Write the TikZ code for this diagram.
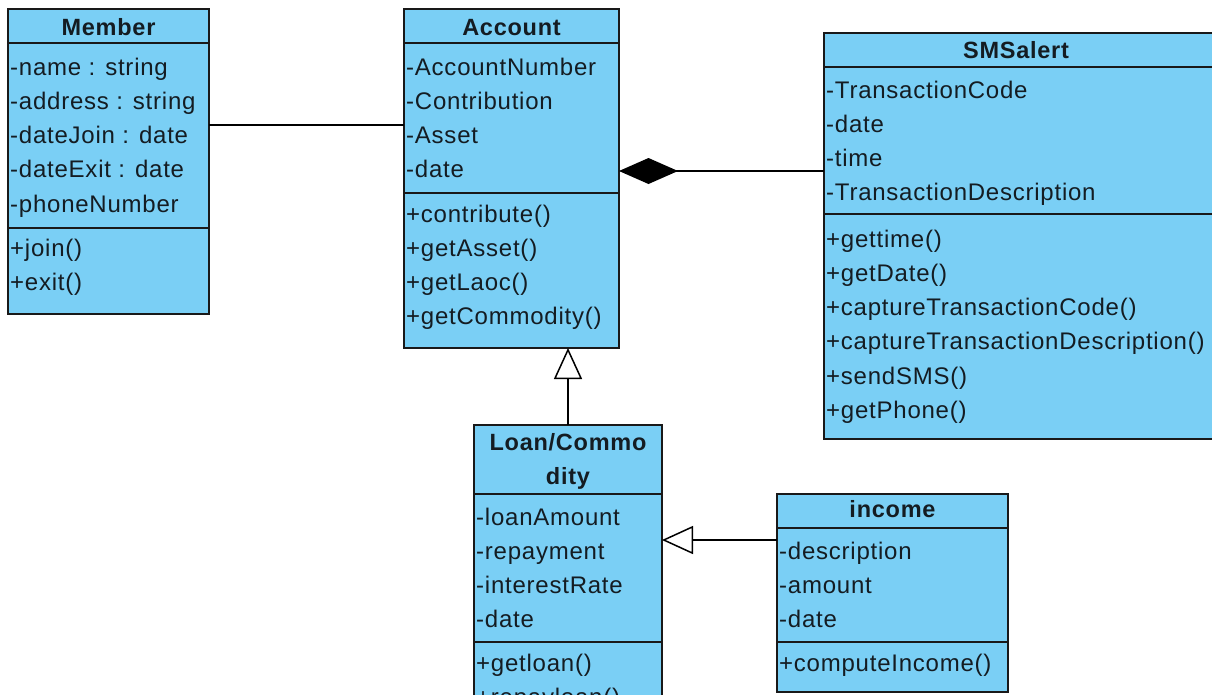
\documentclass[tikz,border=0pt]{standalone}
\usepackage{fontspec}
\setmainfont{Liberation Sans}[LetterSpace=3.2]
\usetikzlibrary{arrows.meta}
\definecolor{cls}{RGB}{122,207,245}
\definecolor{edgec}{RGB}{25,25,25}
\definecolor{txt}{RGB}{20,28,34}
\tikzset{
 classbox/.style={draw=edgec, line width=2pt, fill=cls, anchor=north west, inner sep=0pt, outer sep=0pt},
 sepline/.style={draw=edgec, line width=2pt},
 attr/.style={anchor=base west, inner sep=0pt, text=txt, font=\fontsize{24}{28}\selectfont},
 head/.style={anchor=base, inner sep=0pt, text=txt, font=\fontsize{23.5}{28}\selectfont\bfseries},
 link/.style={draw=black, line width=1.5pt},
 comp/.style={link, -{Diamond[length=59pt,width=26pt]}},
 gen/.style={link, -{Triangle[open,length=31pt,width=28pt,fill=white]}},
}
\begin{document}
\begin{tikzpicture}[x=1pt,y=-1pt]
\useasboundingbox (0,0) rectangle (1212,694);
\clip (0,0) rectangle (1212,694);
\fill[white] (0,0) rectangle (1212,694);

% ---------- Member ----------
\node[classbox, minimum width=201pt, minimum height=305pt] (member) at (8,9) {};
\draw[sepline] (member.west |- 0,43) -- (member.east |- 0,43);
\draw[sepline] (member.west |- 0,228) -- (member.east |- 0,228);
\node[head] (memberT) at (108.5,35) {Member};
\foreach \t [count=\i] in {-name : string,-address : string,-dateJoin : date,-dateExit : date,-phoneNumber}
  \node[attr] (ma\i) at (10,{75+34.3*(\i-1)}) {\t};
\foreach \t [count=\i] in {+join(),+exit()}
  \node[attr] (mm\i) at (10,{256+34.3*(\i-1)}) {\t};

% ---------- Account ----------
\node[classbox, minimum width=215pt, minimum height=339pt] (account) at (404,9) {};
\draw[sepline] (account.west |- 0,43) -- (account.east |- 0,43);
\draw[sepline] (account.west |- 0,193) -- (account.east |- 0,193);
\node[head] (accountT) at (511.5,35) {Account};
\foreach \t [count=\i] in {-AccountNumber,-Contribution,-Asset,-date}
  \node[attr] (aa\i) at (406,{75+34.3*(\i-1)}) {\t};
\foreach \t [count=\i] in {+contribute(),+getAsset(),+getLaoc(),+getCommodity()}
  \node[attr] (am\i) at (406,{222+34.3*(\i-1)}) {\t};

% ---------- SMSalert ----------
\node[classbox, minimum width=389pt, minimum height=406pt] (sms) at (824,33) {};
\draw[sepline] (sms.west |- 0,67) -- (sms.east |- 0,67);
\draw[sepline] (sms.west |- 0,214) -- (sms.east |- 0,214);
\node[head] (smsT) at (1016,58) {SMSalert};
\foreach \t [count=\i] in {-TransactionCode,-date,-time,-TransactionDescription}
  \node[attr] (sa\i) at (826,{98+34.3*(\i-1)}) {\t};
\foreach \t [count=\i] in {+gettime(),+getDate(),+captureTransactionCode(),+captureTransactionDescription(),+sendSMS(),+getPhone()}
  \node[attr] (sm\i) at (826,{247+34.3*(\i-1)}) {\t};

% ---------- Loan/Commodity ----------
\node[classbox, minimum width=188pt, minimum height=300pt] (loan) at (474,425) {};
\draw[sepline] (loan.west |- 0,494) -- (loan.east |- 0,494);
\draw[sepline] (loan.west |- 0,642) -- (loan.east |- 0,642);
\node[head] (loanT1) at (568,450) {Loan/Commo};
\node[head] (loanT2) at (568,484) {dity};
\foreach \t [count=\i] in {-loanAmount,-repayment,-interestRate,-date}
  \node[attr] (la\i) at (476,{525+34.3*(\i-1)}) {\t};
\foreach \t [count=\i] in {+getloan(),+repayloan()}
  \node[attr] (lm\i) at (476,{671+34.3*(\i-1)}) {\t};

% ---------- income ----------
\node[classbox, minimum width=231pt, minimum height=198pt] (income) at (777,494) {};
\draw[sepline] (income.west |- 0,528) -- (income.east |- 0,528);
\draw[sepline] (income.west |- 0,642) -- (income.east |- 0,642);
\node[head] (incomeT) at (892.5,517) {income};
\foreach \t [count=\i] in {-description,-amount,-date}
  \node[attr] (ia\i) at (779,{559+34.3*(\i-1)}) {\t};
\node[attr] (im1) at (779,671) {+computeIncome()};

% ---------- connectors ----------
\coordinate (yMA) at (0,125);
\coordinate (yComp) at (0,171);
\coordinate (xGen) at (568,0);
\coordinate (yInc) at (0,540);
\draw[link] (member.east |- yMA) -- (account.west |- yMA);
\draw[comp] (sms.west |- yComp) -- (account.east |- yComp);
\draw[gen] (loan.north -| xGen) -- (account.south -| xGen);
\draw[gen] (income.west |- yInc) -- (loan.east |- yInc);
\end{tikzpicture}
\end{document}
